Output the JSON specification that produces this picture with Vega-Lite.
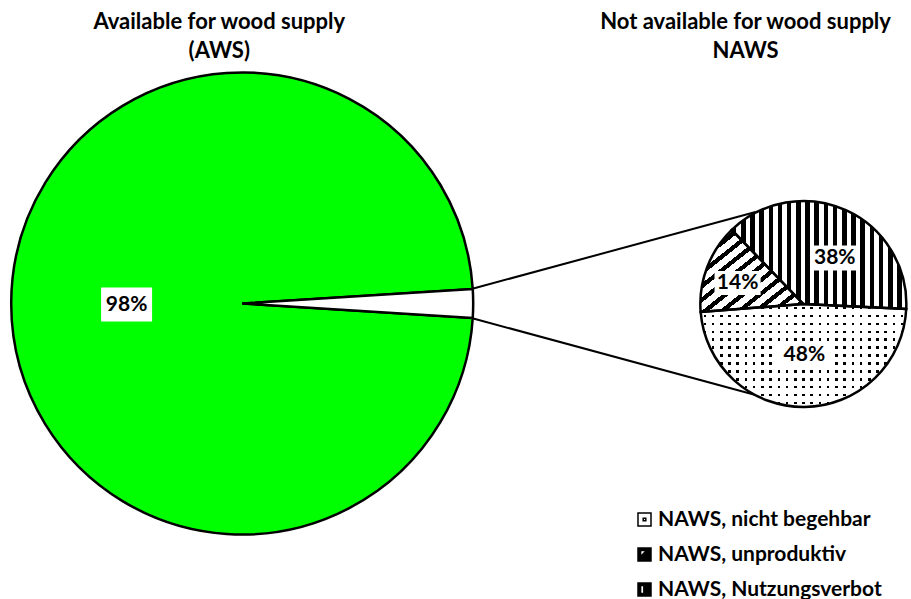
{
  "$schema": "https://vega.github.io/schema/vega-lite/v6.json",
  "width": 911,
  "height": 599,
  "padding": 0,
  "autosize": {"type": "fit", "contains": "padding"},
  "background": "white",
  "config": {"view": {"stroke": null}, "axis": {"disable": true}, "font": "Lato"},
  "datasets": {
    "aws": [
      {"cat": "AWS", "value": 98, "label": "98%"},
      {"cat": "NAWS", "value": 2, "label": "2%"}
    ],
    "naws": [
      {"cat": "NAWS, nicht begehbar", "value": 48, "label": "48%"},
      {"cat": "NAWS, unproduktiv", "value": 14, "label": "14%"},
      {"cat": "NAWS, Nutzungsverbot", "value": 38, "label": "38%"}
    ],
    "titles": [
      {"pie": "AWS", "title": "Available for wood supply\n(AWS)"},
      {"pie": "NAWS", "title": "Not available for wood supply\nNAWS"}
    ]
  },
  "layer": [
    {
      "data": {"name": "aws"},
      "mark": {"type": "arc", "outerRadius": 231, "stroke": "#000", "strokeWidth": 2.5},
      "encoding": {
        "x": {"datum": 243, "type": "quantitative", "scale": {"domain": [0, 911], "nice": false, "zero": false}},
        "y": {"datum": 303.5, "type": "quantitative", "scale": {"domain": [0, 599], "nice": false, "zero": false, "reverse": true}},
        "theta": {"field": "value", "type": "quantitative", "stack": true, "scale": {"range": [1.6336, 7.9168]}},
        "order": {"field": "cat", "sort": "ascending"},
        "fill": {"condition": {"test": "datum.cat === 'AWS'", "value": "#00ff00"}, "value": "#ffffff"}
      }
    },
    {
      "data": {"values": [{}]},
      "mark": {"type": "rule", "stroke": "#000", "strokeWidth": 2},
      "encoding": {
        "x": {"datum": 473, "type": "quantitative", "scale": {"domain": [0, 911], "nice": false, "zero": false}},
        "y": {"datum": 289, "type": "quantitative", "scale": {"domain": [0, 599], "nice": false, "zero": false, "reverse": true}},
        "x2": {"datum": 758},
        "y2": {"datum": 212}
      }
    },
    {
      "data": {"values": [{}]},
      "mark": {"type": "rule", "stroke": "#000", "strokeWidth": 2},
      "encoding": {
        "x": {"datum": 473, "type": "quantitative", "scale": {"domain": [0, 911], "nice": false, "zero": false}},
        "y": {"datum": 318, "type": "quantitative", "scale": {"domain": [0, 599], "nice": false, "zero": false, "reverse": true}},
        "x2": {"datum": 758},
        "y2": {"datum": 395}
      }
    },
    {
      "data": {"name": "naws"},
      "encoding": {
        "x": {"datum": 806, "type": "quantitative", "scale": {"domain": [0, 911], "nice": false, "zero": false}},
        "y": {"datum": 304, "type": "quantitative", "scale": {"domain": [0, 599], "nice": false, "zero": false, "reverse": true}}
      },
      "layer": [
        {
          "mark": {"type": "point", "filled": true, "size": 169, "stroke": "#000", "strokeWidth": 1.5, "opacity": 1},
          "encoding": {
            "fill": {
              "field": "cat",
              "type": "nominal",
              "scale": {
                "domain": ["NAWS, nicht begehbar", "NAWS, unproduktiv", "NAWS, Nutzungsverbot"],
                "range": ["#ffffff", "#000000", "#000000"]
              },
              "legend": {
                "title": null,
                "orient": "none",
                "legendX": 634,
                "legendY": 509,
                "padding": 0,
                "symbolSize": 169,
                "labelFont": "Lato",
                "labelFontSize": 21,
                "labelFontWeight": "bold",
                "labelColor": "#000",
                "labelOffset": 3,
                "rowPadding": 13,
                "labelLimit": 400,
                "encode": {"symbols": {"update": {"stroke": {"value": "#000"}, "strokeWidth": {"value": 1.5}, "opacity": {"value": 1}}}}
              }
            },
            "shape": {
              "field": "cat",
              "type": "nominal",
              "scale": {
                "domain": ["NAWS, nicht begehbar", "NAWS, unproduktiv", "NAWS, Nutzungsverbot"],
                "range": [
                  "M-1,-1H1V1H-1Z M-0.2,-0.2H0.2V0.2H-0.2Z",
                  "M-1,-1H1V1H-1Z M-0.6,-0.6V0.3L0.3,-0.6Z",
                  "M-1,-1H1V1H-1Z M-0.6,-0.6V0.6H-0.1V-0.6Z"
                ]
              },
              "legend": {
                "title": null,
                "orient": "none",
                "legendX": 634,
                "legendY": 509,
                "padding": 0,
                "symbolSize": 169,
                "labelFont": "Lato",
                "labelFontSize": 21,
                "labelFontWeight": "bold",
                "labelColor": "#000",
                "labelOffset": 3,
                "rowPadding": 13,
                "labelLimit": 400,
                "encode": {"symbols": {"update": {"stroke": {"value": "#000"}, "strokeWidth": {"value": 1.5}, "opacity": {"value": 1}}}}
              }
            }
          }
        },
        {
          "encoding": {
            "theta": {"field": "value", "type": "quantitative", "stack": true, "scale": {"range": [5.515, 11.798]}},
            "order": {"field": "cat", "sort": "ascending"}
          },
          "layer": [
            {
              "mark": {"type": "arc", "outerRadius": 103, "strokeWidth": 0},
              "encoding": {
                "fill": {
                  "condition": [
                    {"test": "datum.cat === 'NAWS, Nutzungsverbot'", "value": {"gradient": "linear", "x1": 0, "y1": 0, "x2": 1, "y2": 0, "stops": [
                      {"offset": 0, "color": "#000"}, {"offset": 0.0263, "color": "#000"}, {"offset": 0.0263, "color": "#fff"}, {"offset": 0.0526, "color": "#fff"},
                      {"offset": 0.0526, "color": "#000"}, {"offset": 0.0789, "color": "#000"}, {"offset": 0.0789, "color": "#fff"}, {"offset": 0.1053, "color": "#fff"},
                      {"offset": 0.1053, "color": "#000"}, {"offset": 0.1316, "color": "#000"}, {"offset": 0.1316, "color": "#fff"}, {"offset": 0.1579, "color": "#fff"},
                      {"offset": 0.1579, "color": "#000"}, {"offset": 0.1842, "color": "#000"}, {"offset": 0.1842, "color": "#fff"}, {"offset": 0.2105, "color": "#fff"},
                      {"offset": 0.2105, "color": "#000"}, {"offset": 0.2368, "color": "#000"}, {"offset": 0.2368, "color": "#fff"}, {"offset": 0.2632, "color": "#fff"},
                      {"offset": 0.2632, "color": "#000"}, {"offset": 0.2895, "color": "#000"}, {"offset": 0.2895, "color": "#fff"}, {"offset": 0.3158, "color": "#fff"},
                      {"offset": 0.3158, "color": "#000"}, {"offset": 0.3421, "color": "#000"}, {"offset": 0.3421, "color": "#fff"}, {"offset": 0.3684, "color": "#fff"},
                      {"offset": 0.3684, "color": "#000"}, {"offset": 0.3947, "color": "#000"}, {"offset": 0.3947, "color": "#fff"}, {"offset": 0.4211, "color": "#fff"},
                      {"offset": 0.4211, "color": "#000"}, {"offset": 0.4474, "color": "#000"}, {"offset": 0.4474, "color": "#fff"}, {"offset": 0.4737, "color": "#fff"},
                      {"offset": 0.4737, "color": "#000"}, {"offset": 0.5, "color": "#000"}, {"offset": 0.5, "color": "#fff"}, {"offset": 0.5263, "color": "#fff"},
                      {"offset": 0.5263, "color": "#000"}, {"offset": 0.5526, "color": "#000"}, {"offset": 0.5526, "color": "#fff"}, {"offset": 0.5789, "color": "#fff"},
                      {"offset": 0.5789, "color": "#000"}, {"offset": 0.6053, "color": "#000"}, {"offset": 0.6053, "color": "#fff"}, {"offset": 0.6316, "color": "#fff"},
                      {"offset": 0.6316, "color": "#000"}, {"offset": 0.6579, "color": "#000"}, {"offset": 0.6579, "color": "#fff"}, {"offset": 0.6842, "color": "#fff"},
                      {"offset": 0.6842, "color": "#000"}, {"offset": 0.7105, "color": "#000"}, {"offset": 0.7105, "color": "#fff"}, {"offset": 0.7368, "color": "#fff"},
                      {"offset": 0.7368, "color": "#000"}, {"offset": 0.7632, "color": "#000"}, {"offset": 0.7632, "color": "#fff"}, {"offset": 0.7895, "color": "#fff"},
                      {"offset": 0.7895, "color": "#000"}, {"offset": 0.8158, "color": "#000"}, {"offset": 0.8158, "color": "#fff"}, {"offset": 0.8421, "color": "#fff"},
                      {"offset": 0.8421, "color": "#000"}, {"offset": 0.8684, "color": "#000"}, {"offset": 0.8684, "color": "#fff"}, {"offset": 0.8947, "color": "#fff"},
                      {"offset": 0.8947, "color": "#000"}, {"offset": 0.9211, "color": "#000"}, {"offset": 0.9211, "color": "#fff"}, {"offset": 0.9474, "color": "#fff"},
                      {"offset": 0.9474, "color": "#000"}, {"offset": 0.9737, "color": "#000"}, {"offset": 0.9737, "color": "#fff"}, {"offset": 1, "color": "#fff"}
                    ]}},
                    {"test": "datum.cat === 'NAWS, unproduktiv'", "value": {"gradient": "linear", "x1": 0, "y1": 0, "x2": 1, "y2": 1, "stops": [
                      {"offset": 0, "color": "#000"}, {"offset": 0.0333, "color": "#000"}, {"offset": 0.0333, "color": "#fff"}, {"offset": 0.0833, "color": "#fff"},
                      {"offset": 0.0833, "color": "#000"}, {"offset": 0.1167, "color": "#000"}, {"offset": 0.1167, "color": "#fff"}, {"offset": 0.1667, "color": "#fff"},
                      {"offset": 0.1667, "color": "#000"}, {"offset": 0.2, "color": "#000"}, {"offset": 0.2, "color": "#fff"}, {"offset": 0.25, "color": "#fff"},
                      {"offset": 0.25, "color": "#000"}, {"offset": 0.2833, "color": "#000"}, {"offset": 0.2833, "color": "#fff"}, {"offset": 0.3333, "color": "#fff"},
                      {"offset": 0.3333, "color": "#000"}, {"offset": 0.3667, "color": "#000"}, {"offset": 0.3667, "color": "#fff"}, {"offset": 0.4167, "color": "#fff"},
                      {"offset": 0.4167, "color": "#000"}, {"offset": 0.45, "color": "#000"}, {"offset": 0.45, "color": "#fff"}, {"offset": 0.5, "color": "#fff"},
                      {"offset": 0.5, "color": "#000"}, {"offset": 0.5333, "color": "#000"}, {"offset": 0.5333, "color": "#fff"}, {"offset": 0.5833, "color": "#fff"},
                      {"offset": 0.5833, "color": "#000"}, {"offset": 0.6167, "color": "#000"}, {"offset": 0.6167, "color": "#fff"}, {"offset": 0.6667, "color": "#fff"},
                      {"offset": 0.6667, "color": "#000"}, {"offset": 0.7, "color": "#000"}, {"offset": 0.7, "color": "#fff"}, {"offset": 0.75, "color": "#fff"},
                      {"offset": 0.75, "color": "#000"}, {"offset": 0.7833, "color": "#000"}, {"offset": 0.7833, "color": "#fff"}, {"offset": 0.8333, "color": "#fff"},
                      {"offset": 0.8333, "color": "#000"}, {"offset": 0.8667, "color": "#000"}, {"offset": 0.8667, "color": "#fff"}, {"offset": 0.9167, "color": "#fff"},
                      {"offset": 0.9167, "color": "#000"}, {"offset": 0.95, "color": "#000"}, {"offset": 0.95, "color": "#fff"}, {"offset": 1, "color": "#fff"}
                    ]}}
                  ],
                  "value": {"gradient": "linear", "x1": 0, "y1": 0, "x2": 0, "y2": 1, "stops": [
                    {"offset": 0, "color": "#fff"},
                    {"offset": 0.0269, "color": "#fff"}, {"offset": 0.0269, "color": "#000"}, {"offset": 0.0508, "color": "#000"}, {"offset": 0.0508, "color": "#fff"},
                    {"offset": 0.1038, "color": "#fff"}, {"offset": 0.1038, "color": "#000"}, {"offset": 0.1277, "color": "#000"}, {"offset": 0.1277, "color": "#fff"},
                    {"offset": 0.1807, "color": "#fff"}, {"offset": 0.1807, "color": "#000"}, {"offset": 0.2046, "color": "#000"}, {"offset": 0.2046, "color": "#fff"},
                    {"offset": 0.2577, "color": "#fff"}, {"offset": 0.2577, "color": "#000"}, {"offset": 0.2816, "color": "#000"}, {"offset": 0.2816, "color": "#fff"},
                    {"offset": 0.3346, "color": "#fff"}, {"offset": 0.3346, "color": "#000"}, {"offset": 0.3585, "color": "#000"}, {"offset": 0.3585, "color": "#fff"},
                    {"offset": 0.4115, "color": "#fff"}, {"offset": 0.4115, "color": "#000"}, {"offset": 0.4354, "color": "#000"}, {"offset": 0.4354, "color": "#fff"},
                    {"offset": 0.4884, "color": "#fff"}, {"offset": 0.4884, "color": "#000"}, {"offset": 0.5123, "color": "#000"}, {"offset": 0.5123, "color": "#fff"},
                    {"offset": 0.5654, "color": "#fff"}, {"offset": 0.5654, "color": "#000"}, {"offset": 0.5893, "color": "#000"}, {"offset": 0.5893, "color": "#fff"},
                    {"offset": 0.6423, "color": "#fff"}, {"offset": 0.6423, "color": "#000"}, {"offset": 0.6662, "color": "#000"}, {"offset": 0.6662, "color": "#fff"},
                    {"offset": 0.7192, "color": "#fff"}, {"offset": 0.7192, "color": "#000"}, {"offset": 0.7431, "color": "#000"}, {"offset": 0.7431, "color": "#fff"},
                    {"offset": 0.7961, "color": "#fff"}, {"offset": 0.7961, "color": "#000"}, {"offset": 0.82, "color": "#000"}, {"offset": 0.82, "color": "#fff"},
                    {"offset": 0.8731, "color": "#fff"}, {"offset": 0.8731, "color": "#000"}, {"offset": 0.897, "color": "#000"}, {"offset": 0.897, "color": "#fff"},
                    {"offset": 0.95, "color": "#fff"}, {"offset": 0.95, "color": "#000"}, {"offset": 0.9739, "color": "#000"}, {"offset": 0.9739, "color": "#fff"},
                    {"offset": 1, "color": "#fff"}
                  ]}
                }
              }
            },
            {
              "mark": {"type": "arc", "outerRadius": 103, "strokeWidth": 0},
              "encoding": {
                "fill": {
                  "condition": {"test": "datum.cat === 'NAWS, nicht begehbar'", "value": {"gradient": "linear", "x1": 0, "y1": 0, "x2": 1, "y2": 0, "stops": [
                    {"offset": 0, "color": "#fff"},
                    {"offset": 0.014, "color": "#fff"}, {"offset": 0.014, "color": "rgba(255,255,255,0)"}, {"offset": 0.0264, "color": "rgba(255,255,255,0)"}, {"offset": 0.0264, "color": "#fff"},
                    {"offset": 0.054, "color": "#fff"}, {"offset": 0.054, "color": "rgba(255,255,255,0)"}, {"offset": 0.0664, "color": "rgba(255,255,255,0)"}, {"offset": 0.0664, "color": "#fff"},
                    {"offset": 0.094, "color": "#fff"}, {"offset": 0.094, "color": "rgba(255,255,255,0)"}, {"offset": 0.1064, "color": "rgba(255,255,255,0)"}, {"offset": 0.1064, "color": "#fff"},
                    {"offset": 0.134, "color": "#fff"}, {"offset": 0.134, "color": "rgba(255,255,255,0)"}, {"offset": 0.1464, "color": "rgba(255,255,255,0)"}, {"offset": 0.1464, "color": "#fff"},
                    {"offset": 0.174, "color": "#fff"}, {"offset": 0.174, "color": "rgba(255,255,255,0)"}, {"offset": 0.1864, "color": "rgba(255,255,255,0)"}, {"offset": 0.1864, "color": "#fff"},
                    {"offset": 0.214, "color": "#fff"}, {"offset": 0.214, "color": "rgba(255,255,255,0)"}, {"offset": 0.2264, "color": "rgba(255,255,255,0)"}, {"offset": 0.2264, "color": "#fff"},
                    {"offset": 0.254, "color": "#fff"}, {"offset": 0.254, "color": "rgba(255,255,255,0)"}, {"offset": 0.2664, "color": "rgba(255,255,255,0)"}, {"offset": 0.2664, "color": "#fff"},
                    {"offset": 0.294, "color": "#fff"}, {"offset": 0.294, "color": "rgba(255,255,255,0)"}, {"offset": 0.3064, "color": "rgba(255,255,255,0)"}, {"offset": 0.3064, "color": "#fff"},
                    {"offset": 0.334, "color": "#fff"}, {"offset": 0.334, "color": "rgba(255,255,255,0)"}, {"offset": 0.3464, "color": "rgba(255,255,255,0)"}, {"offset": 0.3464, "color": "#fff"},
                    {"offset": 0.374, "color": "#fff"}, {"offset": 0.374, "color": "rgba(255,255,255,0)"}, {"offset": 0.3864, "color": "rgba(255,255,255,0)"}, {"offset": 0.3864, "color": "#fff"},
                    {"offset": 0.414, "color": "#fff"}, {"offset": 0.414, "color": "rgba(255,255,255,0)"}, {"offset": 0.4264, "color": "rgba(255,255,255,0)"}, {"offset": 0.4264, "color": "#fff"},
                    {"offset": 0.454, "color": "#fff"}, {"offset": 0.454, "color": "rgba(255,255,255,0)"}, {"offset": 0.4664, "color": "rgba(255,255,255,0)"}, {"offset": 0.4664, "color": "#fff"},
                    {"offset": 0.494, "color": "#fff"}, {"offset": 0.494, "color": "rgba(255,255,255,0)"}, {"offset": 0.5064, "color": "rgba(255,255,255,0)"}, {"offset": 0.5064, "color": "#fff"},
                    {"offset": 0.534, "color": "#fff"}, {"offset": 0.534, "color": "rgba(255,255,255,0)"}, {"offset": 0.5464, "color": "rgba(255,255,255,0)"}, {"offset": 0.5464, "color": "#fff"},
                    {"offset": 0.574, "color": "#fff"}, {"offset": 0.574, "color": "rgba(255,255,255,0)"}, {"offset": 0.5864, "color": "rgba(255,255,255,0)"}, {"offset": 0.5864, "color": "#fff"},
                    {"offset": 0.614, "color": "#fff"}, {"offset": 0.614, "color": "rgba(255,255,255,0)"}, {"offset": 0.6264, "color": "rgba(255,255,255,0)"}, {"offset": 0.6264, "color": "#fff"},
                    {"offset": 0.654, "color": "#fff"}, {"offset": 0.654, "color": "rgba(255,255,255,0)"}, {"offset": 0.6664, "color": "rgba(255,255,255,0)"}, {"offset": 0.6664, "color": "#fff"},
                    {"offset": 0.694, "color": "#fff"}, {"offset": 0.694, "color": "rgba(255,255,255,0)"}, {"offset": 0.7064, "color": "rgba(255,255,255,0)"}, {"offset": 0.7064, "color": "#fff"},
                    {"offset": 0.734, "color": "#fff"}, {"offset": 0.734, "color": "rgba(255,255,255,0)"}, {"offset": 0.7464, "color": "rgba(255,255,255,0)"}, {"offset": 0.7464, "color": "#fff"},
                    {"offset": 0.774, "color": "#fff"}, {"offset": 0.774, "color": "rgba(255,255,255,0)"}, {"offset": 0.7864, "color": "rgba(255,255,255,0)"}, {"offset": 0.7864, "color": "#fff"},
                    {"offset": 0.814, "color": "#fff"}, {"offset": 0.814, "color": "rgba(255,255,255,0)"}, {"offset": 0.8264, "color": "rgba(255,255,255,0)"}, {"offset": 0.8264, "color": "#fff"},
                    {"offset": 0.854, "color": "#fff"}, {"offset": 0.854, "color": "rgba(255,255,255,0)"}, {"offset": 0.8664, "color": "rgba(255,255,255,0)"}, {"offset": 0.8664, "color": "#fff"},
                    {"offset": 0.894, "color": "#fff"}, {"offset": 0.894, "color": "rgba(255,255,255,0)"}, {"offset": 0.9064, "color": "rgba(255,255,255,0)"}, {"offset": 0.9064, "color": "#fff"},
                    {"offset": 0.934, "color": "#fff"}, {"offset": 0.934, "color": "rgba(255,255,255,0)"}, {"offset": 0.9464, "color": "rgba(255,255,255,0)"}, {"offset": 0.9464, "color": "#fff"},
                    {"offset": 0.974, "color": "#fff"}, {"offset": 0.974, "color": "rgba(255,255,255,0)"}, {"offset": 0.9864, "color": "rgba(255,255,255,0)"}, {"offset": 0.9864, "color": "#fff"},
                    {"offset": 1, "color": "#fff"}
                  ]}},
                  "value": "rgba(255,255,255,0)"
                }
              }
            },
            {
              "mark": {"type": "arc", "outerRadius": 103, "fill": "rgba(255,255,255,0)", "stroke": "#000", "strokeWidth": 2.5}
            }
          ]
        }
      ]
    },
    {
      "data": {"name": "aws"},
      "transform": [{"filter": "datum.cat === 'AWS'"}],
      "encoding": {
        "x": {"datum": 127, "type": "quantitative", "scale": {"domain": [0, 911], "nice": false, "zero": false}},
        "y": {"datum": 304.5, "type": "quantitative", "scale": {"domain": [0, 599], "nice": false, "zero": false, "reverse": true}}
      },
      "layer": [
        {"mark": {"type": "point", "shape": "M-1.5,-1H1.5V1H-1.5Z", "size": 1156, "filled": true, "fill": "#fff", "opacity": 1, "strokeWidth": 0}},
        {"mark": {"type": "text", "font": "Lato", "fontWeight": "bold", "fontSize": 21, "color": "#000", "align": "center", "baseline": "middle"}, "encoding": {"text": {"field": "label"}}}
      ]
    },
    {
      "data": {"name": "naws"},
      "transform": [{"filter": "datum.cat === 'NAWS, Nutzungsverbot'"}],
      "encoding": {
        "x": {"datum": 837.5, "type": "quantitative", "scale": {"domain": [0, 911], "nice": false, "zero": false}},
        "y": {"datum": 258, "type": "quantitative", "scale": {"domain": [0, 599], "nice": false, "zero": false, "reverse": true}}
      },
      "layer": [
        {"mark": {"type": "point", "shape": "M-1.76,-1H1.76V1H-1.76Z", "size": 625, "filled": true, "fill": "#fff", "opacity": 1, "strokeWidth": 0}},
        {"mark": {"type": "text", "font": "Lato", "fontWeight": "bold", "fontSize": 21, "color": "#000", "align": "center", "baseline": "middle"}, "encoding": {"text": {"field": "label"}}}
      ]
    },
    {
      "data": {"name": "naws"},
      "transform": [{"filter": "datum.cat === 'NAWS, unproduktiv'"}],
      "encoding": {
        "x": {"datum": 740, "type": "quantitative", "scale": {"domain": [0, 911], "nice": false, "zero": false}},
        "y": {"datum": 283, "type": "quantitative", "scale": {"domain": [0, 599], "nice": false, "zero": false, "reverse": true}}
      },
      "layer": [
        {"mark": {"type": "point", "shape": "M-1.92,-1H1.92V1H-1.92Z", "size": 576, "filled": true, "fill": "#fff", "opacity": 1, "strokeWidth": 0}},
        {"mark": {"type": "text", "font": "Lato", "fontWeight": "bold", "fontSize": 21, "color": "#000", "align": "center", "baseline": "middle"}, "encoding": {"text": {"field": "label"}}}
      ]
    },
    {
      "data": {"name": "naws"},
      "transform": [{"filter": "datum.cat === 'NAWS, nicht begehbar'"}],
      "encoding": {
        "x": {"datum": 807, "type": "quantitative", "scale": {"domain": [0, 911], "nice": false, "zero": false}},
        "y": {"datum": 355, "type": "quantitative", "scale": {"domain": [0, 599], "nice": false, "zero": false, "reverse": true}}
      },
      "layer": [
        {"mark": {"type": "point", "shape": "M-2.12,-1H2.12V1H-2.12Z", "size": 625, "filled": true, "fill": "#fff", "opacity": 1, "strokeWidth": 0}},
        {"mark": {"type": "text", "font": "Lato", "fontWeight": "bold", "fontSize": 21, "color": "#000", "align": "center", "baseline": "middle"}, "encoding": {"text": {"field": "label"}}}
      ]
    },
    {
      "data": {"name": "titles"},
      "transform": [{"filter": "datum.pie === 'AWS'"}],
      "mark": {"type": "text", "font": "Lato", "fontWeight": "bold", "fontSize": 22, "lineBreak": "\n", "lineHeight": 29, "align": "center", "baseline": "top", "color": "#000"},
      "encoding": {
        "x": {"datum": 220, "type": "quantitative", "scale": {"domain": [0, 911], "nice": false, "zero": false}},
        "y": {"datum": 12, "type": "quantitative", "scale": {"domain": [0, 599], "nice": false, "zero": false, "reverse": true}},
        "text": {"field": "title"}
      }
    },
    {
      "data": {"name": "titles"},
      "transform": [{"filter": "datum.pie === 'NAWS'"}],
      "mark": {"type": "text", "font": "Lato", "fontWeight": "bold", "fontSize": 22, "lineBreak": "\n", "lineHeight": 29, "align": "center", "baseline": "top", "color": "#000"},
      "encoding": {
        "x": {"datum": 748, "type": "quantitative", "scale": {"domain": [0, 911], "nice": false, "zero": false}},
        "y": {"datum": 12, "type": "quantitative", "scale": {"domain": [0, 599], "nice": false, "zero": false, "reverse": true}},
        "text": {"field": "title"}
      }
    }
  ],
  "resolve": {"scale": {"theta": "independent"}}
}
